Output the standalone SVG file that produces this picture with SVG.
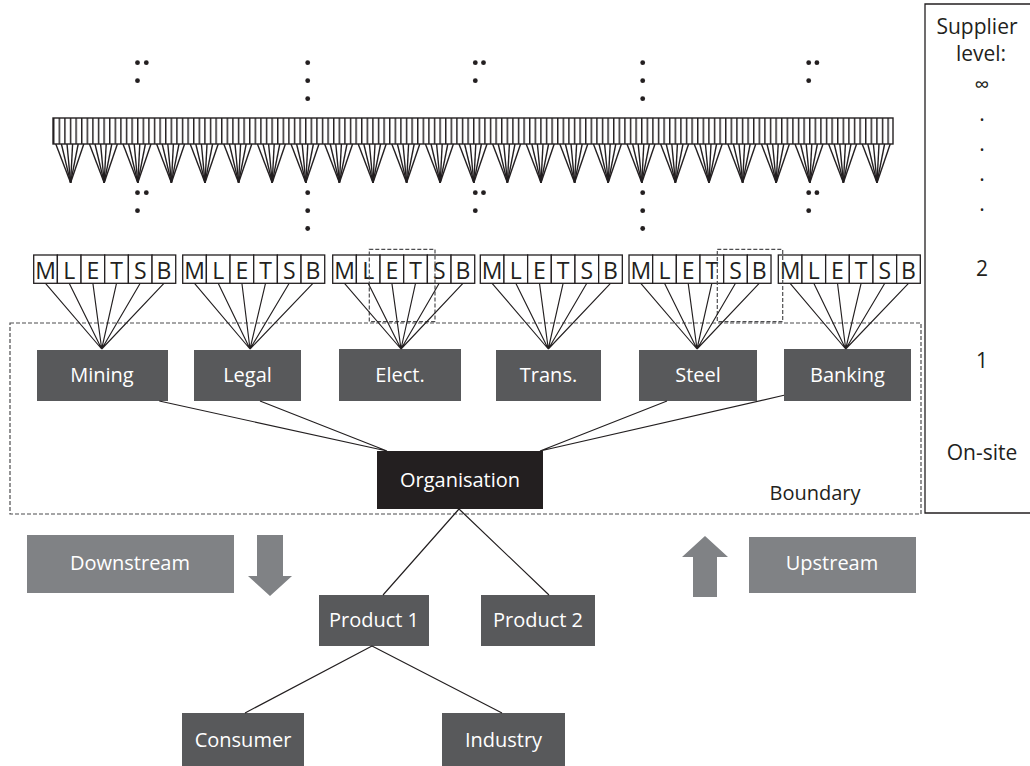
<svg xmlns="http://www.w3.org/2000/svg" xmlns:xlink="http://www.w3.org/1999/xlink" width="1030" height="766" viewBox="0 0 1030 766">
  <style>
    text { font-family: "Open Sans", "Noto Sans", "DejaVu Sans", sans-serif; }
    .lbl { font-size: 20px; fill: #ffffff; text-anchor: middle; }
    .cat { fill: #58595b; }
    .flow { fill: #808285; }
    .cell { fill: #ffffff; stroke: #231f20; stroke-width: 1.3; }
    .let { font-size: 23px; fill: #231f20; text-anchor: middle; }
    .ln { stroke: #231f20; stroke-width: 1.15; fill: none; }
    .fanln { stroke: #231f20; stroke-width: 1.4; fill: none; }
    .dash { fill: none; stroke: #4d4d4f; stroke-width: 1.2; stroke-dasharray: 4 2; }
    .dot { fill: #231f20; }
    .lvl { font-size: 21px; fill: #231f20; text-anchor: middle; }
  </style>
  <defs>
    <pattern id="cells" x="53" y="118" width="5.6" height="26" patternUnits="userSpaceOnUse">
      <rect width="5.6" height="26" fill="#ffffff"/>
      <line x1="0.7" y1="0" x2="0.7" y2="26" stroke="#231f20" stroke-width="1.5"/>
    </pattern>
    <g id="fan" class="fanln">
      <line x1="2.8" y1="144" x2="17.6" y2="182.7"/>
      <line x1="8.4" y1="144" x2="17.6" y2="182.7"/>
      <line x1="14" y1="144" x2="17.6" y2="182.7"/>
      <line x1="19.6" y1="144" x2="17.6" y2="182.7"/>
      <line x1="25.2" y1="144" x2="17.6" y2="182.7"/>
      <line x1="30.8" y1="144" x2="17.6" y2="182.7"/>
    </g>
  </defs>

  <rect width="1030" height="766" fill="#ffffff"/>

  <!-- supplier level scale -->
  <g id="level-scale">
    <path d="M1035 513 H925 V4 H1035" fill="none" stroke="#231f20" stroke-width="1.3"/>
    <text class="lvl" x="977" y="34">Supplier</text>
    <text class="lvl" x="981" y="61">level:</text>
    <text class="lvl" x="982" y="92">∞</text>
    <text class="lvl" x="982" y="121">.</text>
    <text class="lvl" x="982" y="151">.</text>
    <text class="lvl" x="982" y="181">.</text>
    <text class="lvl" x="982" y="211">.</text>
    <text class="lvl" x="982" y="276">2</text>
    <text class="lvl" x="982" y="368">1</text>
    <text class="lvl" x="982" y="460">On-site</text>
  </g>

  <!-- deeper supplier tiers -->
  <g id="deep-tiers">
    <rect x="53" y="118" width="840" height="26" fill="url(#cells)" stroke="#231f20" stroke-width="1.4"/>
    <use xlink:href="#fan" x="53"/>
    <use xlink:href="#fan" x="86.6"/>
    <use xlink:href="#fan" x="120.2"/>
    <use xlink:href="#fan" x="153.8"/>
    <use xlink:href="#fan" x="187.4"/>
    <use xlink:href="#fan" x="221"/>
    <use xlink:href="#fan" x="254.6"/>
    <use xlink:href="#fan" x="288.2"/>
    <use xlink:href="#fan" x="321.8"/>
    <use xlink:href="#fan" x="355.4"/>
    <use xlink:href="#fan" x="389"/>
    <use xlink:href="#fan" x="422.6"/>
    <use xlink:href="#fan" x="456.2"/>
    <use xlink:href="#fan" x="489.8"/>
    <use xlink:href="#fan" x="523.4"/>
    <use xlink:href="#fan" x="557"/>
    <use xlink:href="#fan" x="590.6"/>
    <use xlink:href="#fan" x="624.2"/>
    <use xlink:href="#fan" x="657.8"/>
    <use xlink:href="#fan" x="691.4"/>
    <use xlink:href="#fan" x="725"/>
    <use xlink:href="#fan" x="758.6"/>
    <use xlink:href="#fan" x="792.2"/>
    <use xlink:href="#fan" x="825.8"/>
    <use xlink:href="#fan" x="859.4"/>
  </g>

  <!-- ellipsis dots above and below the tier bar -->
  <g id="ellipses" class="dot">
    <circle cx="137.5" cy="62.7" r="2.4"/><circle cx="146.3" cy="62.7" r="2.4"/><circle cx="137.5" cy="80.7" r="2.4"/>
    <circle cx="307.7" cy="62.7" r="2.4"/><circle cx="307.7" cy="80.7" r="2.4"/><circle cx="307.7" cy="98.7" r="2.4"/>
    <circle cx="475.3" cy="62.7" r="2.4"/><circle cx="483.5" cy="62.7" r="2.4"/><circle cx="475.3" cy="80.7" r="2.4"/>
    <circle cx="642.7" cy="62.7" r="2.4"/><circle cx="642.7" cy="80.7" r="2.4"/><circle cx="642.7" cy="98.7" r="2.4"/>
    <circle cx="808.7" cy="62.7" r="2.4"/><circle cx="816.9" cy="62.7" r="2.4"/><circle cx="808.7" cy="80.7" r="2.4"/>

    <circle cx="137.5" cy="192.7" r="2.4"/><circle cx="146.3" cy="192.7" r="2.4"/><circle cx="137.5" cy="210.7" r="2.4"/>
    <circle cx="307.7" cy="192.7" r="2.4"/><circle cx="307.7" cy="210.7" r="2.4"/><circle cx="307.7" cy="228.5" r="2.4"/>
    <circle cx="475.3" cy="192.7" r="2.4"/><circle cx="483.5" cy="192.7" r="2.4"/><circle cx="475.3" cy="210.7" r="2.4"/>
    <circle cx="642.7" cy="192.7" r="2.4"/><circle cx="642.7" cy="210.7" r="2.4"/><circle cx="642.7" cy="228.5" r="2.4"/>
    <circle cx="808.7" cy="192.7" r="2.4"/><circle cx="816.9" cy="192.7" r="2.4"/><circle cx="808.7" cy="210.7" r="2.4"/>
  </g>

  <!-- second-tier supplier sets: M L E T S B -->
  <g id="tier2-mining">
    <rect class="cell" x="33.7" y="255" width="23.67" height="28.3"/><rect class="cell" x="57.37" y="255" width="23.67" height="28.3"/><rect class="cell" x="81.04" y="255" width="23.67" height="28.3"/><rect class="cell" x="104.71" y="255" width="23.67" height="28.3"/><rect class="cell" x="128.38" y="255" width="23.67" height="28.3"/><rect class="cell" x="152.05" y="255" width="23.67" height="28.3"/>
    <text class="let" x="45.5" y="279">M</text><text class="let" x="69.2" y="279">L</text><text class="let" x="92.9" y="279">E</text><text class="let" x="116.5" y="279">T</text><text class="let" x="140.2" y="279">S</text><text class="let" x="163.9" y="279">B</text>
  </g>
  <g id="tier2-legal">
    <rect class="cell" x="182.7" y="255" width="23.67" height="28.3"/><rect class="cell" x="206.37" y="255" width="23.67" height="28.3"/><rect class="cell" x="230.04" y="255" width="23.67" height="28.3"/><rect class="cell" x="253.71" y="255" width="23.67" height="28.3"/><rect class="cell" x="277.38" y="255" width="23.67" height="28.3"/><rect class="cell" x="301.05" y="255" width="23.67" height="28.3"/>
    <text class="let" x="194.5" y="279">M</text><text class="let" x="218.2" y="279">L</text><text class="let" x="241.9" y="279">E</text><text class="let" x="265.5" y="279">T</text><text class="let" x="289.2" y="279">S</text><text class="let" x="312.9" y="279">B</text>
  </g>
  <g id="tier2-elect">
    <rect class="cell" x="332.7" y="255" width="23.67" height="28.3"/><rect class="cell" x="356.37" y="255" width="23.67" height="28.3"/><rect class="cell" x="380.04" y="255" width="23.67" height="28.3"/><rect class="cell" x="403.71" y="255" width="23.67" height="28.3"/><rect class="cell" x="427.38" y="255" width="23.67" height="28.3"/><rect class="cell" x="451.05" y="255" width="23.67" height="28.3"/>
    <text class="let" x="344.5" y="279">M</text><text class="let" x="368.2" y="279">L</text><text class="let" x="391.9" y="279">E</text><text class="let" x="415.5" y="279">T</text><text class="let" x="439.2" y="279">S</text><text class="let" x="462.9" y="279">B</text>
  </g>
  <g id="tier2-trans">
    <rect class="cell" x="480.3" y="255" width="23.67" height="28.3"/><rect class="cell" x="503.97" y="255" width="23.67" height="28.3"/><rect class="cell" x="527.64" y="255" width="23.67" height="28.3"/><rect class="cell" x="551.31" y="255" width="23.67" height="28.3"/><rect class="cell" x="574.98" y="255" width="23.67" height="28.3"/><rect class="cell" x="598.65" y="255" width="23.67" height="28.3"/>
    <text class="let" x="492.1" y="279">M</text><text class="let" x="515.8" y="279">L</text><text class="let" x="539.5" y="279">E</text><text class="let" x="563.1" y="279">T</text><text class="let" x="586.8" y="279">S</text><text class="let" x="610.5" y="279">B</text>
  </g>
  <g id="tier2-steel">
    <rect class="cell" x="629" y="255" width="23.67" height="28.3"/><rect class="cell" x="652.67" y="255" width="23.67" height="28.3"/><rect class="cell" x="676.34" y="255" width="23.67" height="28.3"/><rect class="cell" x="700.01" y="255" width="23.67" height="28.3"/><rect class="cell" x="723.68" y="255" width="23.67" height="28.3"/><rect class="cell" x="747.35" y="255" width="23.67" height="28.3"/>
    <text class="let" x="640.8" y="279">M</text><text class="let" x="664.5" y="279">L</text><text class="let" x="688.2" y="279">E</text><text class="let" x="711.8" y="279">T</text><text class="let" x="735.5" y="279">S</text><text class="let" x="759.2" y="279">B</text>
  </g>
  <g id="tier2-banking">
    <rect class="cell" x="778.3" y="255" width="23.67" height="28.3"/><rect class="cell" x="801.97" y="255" width="23.67" height="28.3"/><rect class="cell" x="825.64" y="255" width="23.67" height="28.3"/><rect class="cell" x="849.31" y="255" width="23.67" height="28.3"/><rect class="cell" x="872.98" y="255" width="23.67" height="28.3"/><rect class="cell" x="896.65" y="255" width="23.67" height="28.3"/>
    <text class="let" x="790.1" y="279">M</text><text class="let" x="813.8" y="279">L</text><text class="let" x="837.5" y="279">E</text><text class="let" x="861.1" y="279">T</text><text class="let" x="884.8" y="279">S</text><text class="let" x="908.5" y="279">B</text>
  </g>

  <!-- organisational boundary and highlighted supplier pairs -->
  <g id="boundary">
    <rect class="dash" x="10" y="323" width="911" height="191"/>
    <text x="815" y="500" font-size="20" fill="#231f20" text-anchor="middle">Boundary</text>
  </g>
  <rect id="highlight-elect" class="dash" x="369.3" y="249.3" width="65.7" height="72.4"/>
  <rect id="highlight-steel" class="dash" x="717.3" y="249.3" width="65.4" height="72.4"/>

  <!-- first-tier sectors -->
  <g id="mining"><rect class="cat" x="37" y="350" width="131" height="51"/><text class="lbl" x="102" y="382">Mining</text></g>
  <g id="legal"><rect class="cat" x="194" y="350" width="107" height="51"/><text class="lbl" x="247.5" y="382">Legal</text></g>
  <g id="elect"><rect class="cat" x="339" y="349" width="122" height="52"/><text class="lbl" x="400" y="382">Elect.</text></g>
  <g id="trans"><rect class="cat" x="496" y="350" width="105" height="51"/><text class="lbl" x="548.5" y="382">Trans.</text></g>
  <g id="steel"><rect class="cat" x="639" y="350" width="118" height="51"/><text class="lbl" x="698" y="382">Steel</text></g>
  <g id="banking"><rect class="cat" x="784" y="349" width="127" height="52"/><text class="lbl" x="847.5" y="382">Banking</text></g>

  <!-- organisation -->
  <g id="organisation"><rect x="377" y="451" width="166" height="58" fill="#231f20"/><text class="lbl" x="460" y="487">Organisation</text></g>

  <!-- downstream nodes -->
  <g id="product-1"><rect class="cat" x="319" y="595" width="110" height="51"/><text class="lbl" x="374" y="627">Product 1</text></g>
  <g id="product-2"><rect class="cat" x="481" y="595" width="114" height="51"/><text class="lbl" x="538" y="627">Product 2</text></g>
  <g id="consumer"><rect class="cat" x="182" y="713" width="122" height="55"/><text class="lbl" x="243" y="747">Consumer</text></g>
  <g id="industry"><rect class="cat" x="442" y="713" width="123" height="55"/><text class="lbl" x="503.5" y="747">Industry</text></g>

  <!-- flow direction labels -->
  <g id="downstream">
    <rect class="flow" x="27" y="535" width="207" height="58"/>
    <text class="lbl" x="130" y="570" fill="#f4f4f4">Downstream</text>
    <polygon class="flow" points="257,535 283,535 283,576 292,576 270,596 248,576 257,576"/>
  </g>
  <g id="upstream">
    <rect class="flow" x="749" y="537" width="167" height="56"/>
    <text class="lbl" x="832" y="570" fill="#f4f4f4">Upstream</text>
    <polygon class="flow" points="705,536 728,557 717,557 717,597 693,597 693,557 682,557"/>
  </g>

  <!-- connectors -->
  <g id="connectors" class="ln">
    <!-- tier-2 sets to their first-tier sector -->
    <path d="M45.5 283.3 L101.7 349 M69.2 283.3 L101.7 349 M92.9 283.3 L101.7 349 M116.5 283.3 L101.7 349 M140.2 283.3 L101.7 349 M163.9 283.3 L101.7 349"/>
    <path d="M194.5 283.3 L250 349 M218.2 283.3 L250 349 M241.9 283.3 L250 349 M265.5 283.3 L250 349 M289.2 283.3 L250 349 M312.9 283.3 L250 349"/>
    <path d="M344.5 283.3 L401 349 M368.2 283.3 L401 349 M391.9 283.3 L401 349 M415.5 283.3 L401 349 M439.2 283.3 L401 349 M462.9 283.3 L401 349"/>
    <path d="M492.1 283.3 L548.3 349 M515.8 283.3 L548.3 349 M539.5 283.3 L548.3 349 M563.1 283.3 L548.3 349 M586.8 283.3 L548.3 349 M610.5 283.3 L548.3 349"/>
    <path d="M640.8 283.3 L697 349 M664.5 283.3 L697 349 M688.2 283.3 L697 349 M711.8 283.3 L697 349 M735.5 283.3 L697 349 M759.2 283.3 L697 349"/>
    <path d="M790.1 283.3 L845.7 349 M813.8 283.3 L845.7 349 M837.5 283.3 L845.7 349 M861.1 283.3 L845.7 349 M884.8 283.3 L845.7 349 M908.5 283.3 L845.7 349"/>
    <!-- sectors to organisation -->
    <path d="M159.3 401 L387 451 M260 401 L387 451 M667 401 L540 451 M784 395.3 L540 451"/>
    <!-- organisation to products -->
    <path d="M459 509 L383 595 M459 509 L549 595"/>
    <!-- product 1 to customers -->
    <path d="M372 646 L245 713 M372 646 L502 713"/>
  </g>
</svg>
